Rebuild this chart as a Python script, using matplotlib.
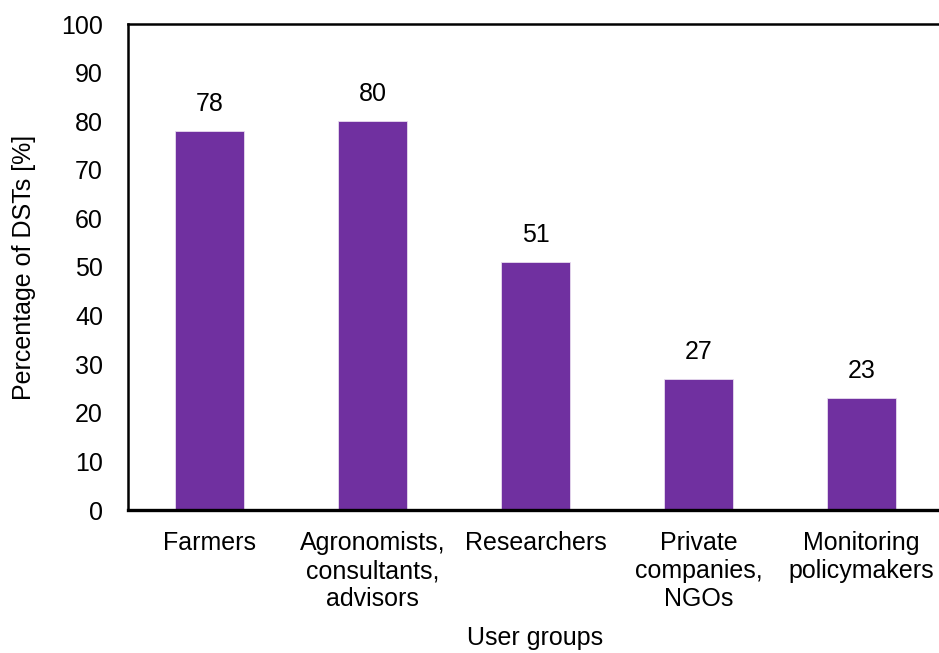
import matplotlib.pyplot as plt
import numpy as np

plt.rcParams['font.family'] = ['Liberation Sans', 'DejaVu Sans']

categories = ['Farmers', 'Agronomists,\nconsultants,\nadvisors', 'Researchers',
              'Private\ncompanies,\nNGOs', 'Monitoring\npolicymakers']
values = [78, 80, 51, 27, 23]

fig = plt.figure(figsize=(9.39, 6.53), dpi=100)
ax = fig.add_axes([128 / 939, 1 - 510 / 653, 815 / 939, 486 / 653])

x = np.arange(len(categories))
bars = ax.bar(x, values, width=0.42, color='#7030A0', edgecolor='#e8dcef', linewidth=0.6)

for xi, v in zip(x, values):
    ax.annotate(f'{v}', (xi, v), xytext=(0, 11), textcoords='offset points',
                ha='center', va='bottom', fontsize=18)

ax.set_xlim(-0.5, len(categories) - 0.5)
ax.set_ylim(0, 100)
ax.set_yticks(range(0, 101, 10))
ax.set_xticks(x)
ax.set_xticklabels(categories, fontsize=18, linespacing=1.22)
ax.tick_params(axis='y', labelsize=18, length=0, pad=18)
ax.tick_params(axis='x', length=0, pad=15)

for s in ['left', 'top', 'right']:
    ax.spines[s].set_linewidth(1.8)
ax.spines['bottom'].set_linewidth(2.4)

ax.set_ylabel('Percentage of DSTs [%]', fontsize=18, labelpad=18)
ax.set_xlabel('User groups', fontsize=18, labelpad=11)

fig.savefig('out.png', dpi=100, facecolor='white')
